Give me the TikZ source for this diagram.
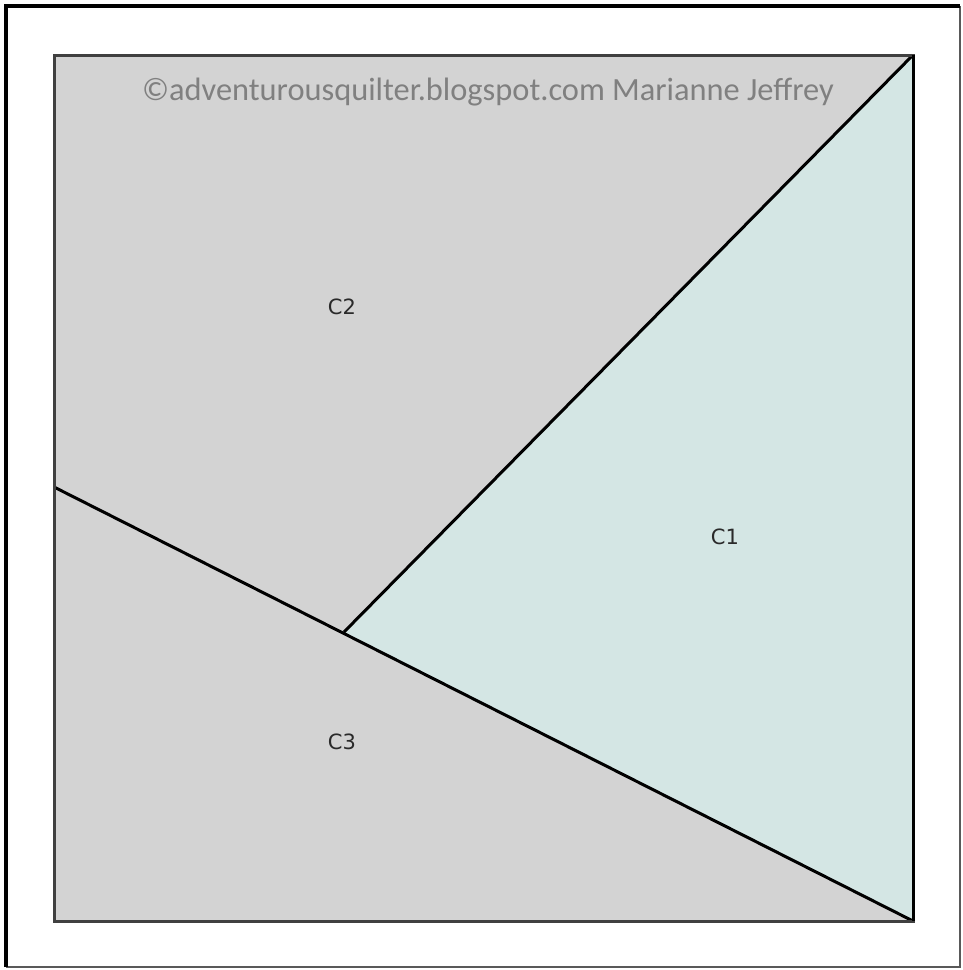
\documentclass[tikz,border=0pt]{standalone}
\usepackage{fontspec}
\setmainfont{DejaVu Sans}
\newfontfamily\wmfont{Carlito}
\definecolor{patchgrey}{HTML}{D3D3D3}
\definecolor{patchteal}{HTML}{D4E6E4}
\definecolor{wmgrey}{HTML}{808080}
\definecolor{labelink}{HTML}{2A2A2A}
\tikzset{
  seam/.style={draw=black, line width=3pt, line join=miter},
  patchlabel/.style={font=\fontsize{21}{24}\selectfont, text=labelink, inner sep=0pt},
  watermark/.style={font=\wmfont\fontsize{32.4}{36}\selectfont, text=wmgrey, inner sep=0pt}
}
\begin{document}
\begin{tikzpicture}[x=1pt,y=-1pt]
\useasboundingbox (0,0) rectangle (963,970);
\fill[white] (0,0) rectangle (963,970);
% outer frame
\draw[line width=2pt, draw=black!65] (960,6) -- (960,967) -- (6,967);
\draw[line width=3.5pt, draw=black] (6,967) -- (6,6) -- (960,6);
% corner coordinates
\coordinate (tl) at (54,55);
\coordinate (tr) at (913,55);
\coordinate (br) at (913,921);
\coordinate (bl) at (54,921);
\coordinate (ml) at (54,487);
\coordinate (jn) at (344,632);
% patches
\fill[patchgrey] (tl) -- (tr) -- (jn) -- (ml) -- cycle;
\fill[patchgrey] (ml) -- (jn) -- (br) -- (bl) -- cycle;
\fill[patchteal] (tr) -- (br) -- (jn) -- cycle;
% seams
\draw[seam] (ml) -- (br);
\draw[seam] (jn) -- (tr);
\draw[seam, draw=black!75] (tl) rectangle (br);
\draw[seam] (tr) -- (br);
% labels
\node[patchlabel] (c2) at (342,307) {C2};
\node[patchlabel] (c1) at (725,537) {C1};
\node[patchlabel] (c3) at (342,742) {C3};
\node[watermark, anchor=base] (wm) at (488,100) {©adventurousquilter.blogspot.com Marianne Jeffrey};
\end{tikzpicture}
\end{document}
